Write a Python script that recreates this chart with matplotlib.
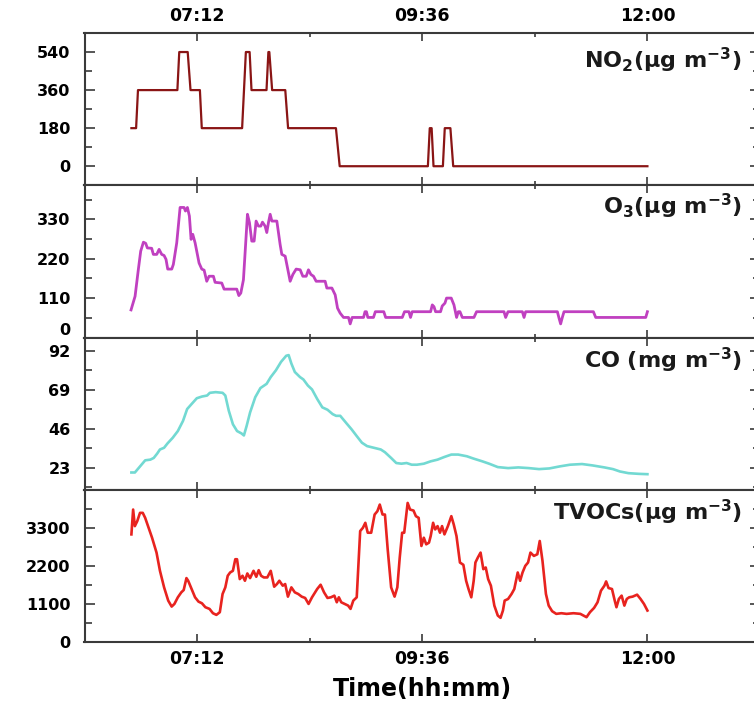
import matplotlib
matplotlib.use('Agg')
from matplotlib import pyplot as plt
from matplotlib.ticker import MultipleLocator, FixedLocator
from matplotlib.transforms import blended_transform_factory, ScaledTranslation

# time in hours (decimal)
no2_t = [6.50, 6.55, 6.57, 6.99, 7.01, 7.10, 7.13, 7.23, 7.25, 7.68, 7.72, 7.76, 7.78, 7.94,
         7.96, 7.97, 8.00, 8.14, 8.17, 8.68, 8.72, 9.66, 9.68, 9.70, 9.72, 9.82, 9.84, 9.90,
         9.93, 12.00]
no2_v = [180, 180, 360, 360, 540, 540, 360, 360, 180, 180, 540, 540, 360, 360,
         540, 540, 360, 360, 180, 180, 0, 0, 180, 180, 0, 0, 180, 180,
         0, 0]

o3_t = [6.496, 6.539, 6.574, 6.599, 6.628, 6.652, 6.670, 6.716, 6.734, 6.770, 6.795, 6.823,
        6.848, 6.869, 6.887, 6.930, 6.947, 6.983, 7.019, 7.061, 7.076, 7.097, 7.118, 7.136,
        7.154, 7.179, 7.221, 7.250, 7.275, 7.303, 7.328, 7.374, 7.392, 7.463, 7.488, 7.623,
        7.645, 7.666, 7.694, 7.737, 7.758, 7.783, 7.808, 7.829, 7.854, 7.879, 7.897, 7.925,
        7.943, 7.961, 7.979, 7.997, 8.050, 8.085, 8.103, 8.139, 8.164, 8.192, 8.221, 8.256,
        8.299, 8.327, 8.363, 8.387, 8.413, 8.441, 8.469, 8.565, 8.583, 8.637, 8.672, 8.697,
        8.725, 8.761, 8.814, 8.832, 8.853, 8.974, 8.990, 9.005, 9.020, 9.080, 9.100, 9.190,
        9.210, 9.387, 9.411, 9.458, 9.475, 9.493, 9.689, 9.707, 9.725, 9.742, 9.795, 9.813,
        9.842, 9.859, 9.909, 9.938, 9.966, 9.984, 10.002, 10.027, 10.151, 10.179, 10.471,
        10.489, 10.514, 10.667, 10.685, 10.702, 11.040, 11.058, 11.075, 11.093, 11.111,
        11.424, 11.449, 11.982, 12.000]
o3_v = [77, 115, 190, 241, 266, 263, 250, 249, 232, 232, 246, 232,
        229, 218, 191, 191, 204, 264, 363, 363, 353, 363, 339, 274,
        288, 264, 208, 191, 188, 157, 171, 171, 154, 152, 135, 135,
        117, 124, 161, 344, 321, 269, 269, 325, 311, 311, 322, 311,
        293, 321, 344, 325, 325, 260, 232, 227, 194, 157, 176, 191,
        189, 171, 171, 189, 176, 171, 157, 157, 138, 138, 119, 82,
        68, 56, 56, 38, 56, 56, 72, 72, 56, 56, 72, 72,
        56, 56, 72, 72, 56, 72, 72, 91, 86, 72, 72, 88,
        96, 110, 110, 91, 56, 72, 72, 56, 56, 72, 72,
        56, 72, 72, 56, 72, 72, 54, 38, 56, 72,
        72, 56, 56, 72]

co_t = [6.500, 6.537, 6.592, 6.647, 6.702, 6.738, 6.775, 6.804, 6.848, 6.885, 6.940, 6.995,
        7.050, 7.094, 7.142, 7.197, 7.252, 7.307, 7.336, 7.398, 7.472, 7.501, 7.538, 7.582,
        7.626, 7.673, 7.699, 7.728, 7.765, 7.820, 7.875, 7.941, 7.985, 8.040, 8.095, 8.150,
        8.176, 8.205, 8.242, 8.297, 8.333, 8.381, 8.425, 8.480, 8.535, 8.590, 8.645, 8.682,
        8.726, 8.792, 8.847, 8.902, 8.957, 9.012, 9.085, 9.158, 9.202, 9.268, 9.323, 9.378,
        9.433, 9.488, 9.543, 9.617, 9.690, 9.763, 9.837, 9.910, 9.983, 10.075, 10.148, 10.240,
        10.313, 10.405, 10.515, 10.625, 10.735, 10.845, 10.955, 11.065, 11.175, 11.303, 11.413,
        11.542, 11.633, 11.707, 11.798, 11.908, 12.000]
co_v = [20.2, 20.2, 23.8, 27.4, 27.8, 28.8, 31.4, 33.8, 34.8, 37.4, 40.7, 44.7,
        50.7, 57.7, 60.7, 64.1, 65.1, 65.7, 67.3, 67.7, 67.3, 65.7, 56.7, 48.7,
        44.7, 43.3, 42.1, 47.7, 55.7, 64.7, 70.1, 72.6, 76.6, 80.6, 85.6, 89.2,
        89.6, 84.6, 79.6, 76.6, 75.2, 71.6, 69.3, 63.7, 58.7, 57.3, 54.7, 53.7,
        53.7, 49.3, 45.7, 41.7, 37.8, 35.8, 34.8, 33.8, 32.2, 28.8, 25.8, 25.4,
        25.8, 24.8, 24.8, 25.4, 26.8, 27.8, 29.4, 30.8, 30.8, 29.8, 28.4, 26.8,
        25.4, 23.4, 22.8, 23.2, 22.8, 22.2, 22.6, 23.8, 24.8, 25.2, 24.4,
        23.2, 22.2, 20.8, 19.8, 19.4, 19.2]

# TVOCs: position in the zoomed trace -> hours
tvoc_zx = [35, 40, 45, 52, 60, 68, 75, 85, 95, 108, 118, 130, 142, 152, 160, 170, 180, 187,
           195, 200, 210, 220, 230, 240, 250, 262, 272, 282, 292, 300, 308, 315, 322, 330,
           337, 342, 350, 358, 365, 372, 380, 390, 398, 405, 412, 420, 430, 440, 450, 458,
           465, 475, 482, 490, 500, 510, 520, 530, 540, 550, 560, 575, 585, 595, 605, 615,
           625, 632, 638, 645, 655, 665, 672, 680, 690, 700, 708, 715, 722, 732, 742, 750,
           757, 765, 772, 780, 790, 800, 808, 815, 822, 828, 838, 845, 855, 862, 870, 878,
           885, 892, 900, 905, 912, 918, 925, 932, 938, 945, 955, 965, 972, 980, 990, 1000,
           1008, 1015, 1023, 1030, 1035, 1042, 1050, 1058, 1065, 1072, 1080, 1090, 1100, 1108,
           1115, 1120, 1130, 1140, 1148, 1158, 1165, 1172, 1180, 1188, 1195, 1205, 1215, 1222,
           1230, 1240, 1248, 1258, 1270, 1285, 1300, 1320, 1340, 1358, 1368, 1380, 1390, 1400,
           1410, 1415, 1422, 1432, 1440, 1445, 1452, 1460, 1468, 1475, 1482, 1492, 1505, 1515,
           1525, 1535]
tvoc_v = [3110, 3828, 3349, 3493, 3732, 3732, 3588, 3301, 3014, 2584, 2057, 1579, 1196, 1024,
          1100, 1292, 1435, 1502, 1847, 1770, 1531, 1292, 1167, 1119, 1005, 957, 832, 784, 861,
          1387, 1579, 1914, 2009, 2057, 2392, 2392, 1818, 1914, 1770, 1981, 1847, 2057, 1885,
          2076, 1914, 1866, 1866, 2057, 1598, 1675, 1770, 1627, 1675, 1311, 1579, 1435, 1387,
          1311, 1273, 1100, 1292, 1531, 1655, 1435, 1273, 1292, 1340, 1148, 1292, 1148, 1100,
          1052, 957, 1196, 1292, 3206, 3301, 3445, 3158, 3158, 3684, 3780, 3971, 3684, 3684,
          2679, 1579, 1311, 1579, 2440, 3158, 3158, 4019, 3828, 3799, 3636, 3588, 2775, 3014,
          2823, 2871, 3062, 3445, 3253, 3349, 3158, 3349, 3110, 3349, 3636, 3397, 3062, 2297,
          2230, 1770, 1531, 1292, 1770, 2297, 2440, 2584, 2105, 2153, 1818, 1627, 1052, 765,
          698, 909, 1196, 1244, 1387, 1531, 2009, 1770, 2009, 2201, 2297, 2584, 2488, 2536,
          2919, 2344, 1387, 1052, 890, 813, 832, 813, 832, 813, 717, 861, 986, 1148, 1483,
          1627, 1751, 1560, 1531, 1196, 1005, 1244, 1340, 1052, 1244, 1292, 1311, 1368, 1244,
          1100, 909]
tvoc_t = [6.5 + (z - 35) * 5.5 / 1500 for z in tvoc_zx]

x_ticks = [7.2, 9.6, 12.0]
x_labels = ['07:12', '09:36', '12:00']

titles = ['NO$_2$(μg m$^{-3}$)', 'O$_3$(μg m$^{-3}$)', 'CO (mg m$^{-3}$)', 'TVOCs(μg m$^{-3}$)']
colors = ['#8A1515', '#C040C0', '#72D9D2', '#E8231F']
widths = [1.6, 2.0, 1.9, 1.9]
y_major = [[0, 180, 360, 540], [0, 110, 220, 330], [23, 46, 69, 92], [0, 1100, 2200, 3300]]
y_minor = [90, 55, 11.5, 550]
y_lims = [(-90, 630), (0, 425), (10, 100), (0, 4400)]
title_y = [0.82, 0.86, 0.85, 0.85]

plt.rcParams['font.family'] = ['DejaVu Sans']
plt.rcParams['font.weight'] = 'bold'
plt.rcParams['mathtext.default'] = 'bf'
plt.rcParams['mathtext.fontset'] = 'dejavusans'

fig = plt.figure(figsize=(7.54, 7.04), dpi=100)
W, H = 754.0, 704.0
left_px, right_px = 84.5, 760.0
top_px, bot_px = 33.0, 642.0
ph = (bot_px - top_px) / 4

series = [(no2_t, no2_v), (o3_t, o3_v), (co_t, co_v), (tvoc_t, tvoc_v)]
axes = []
for i in range(4):
    y_top = top_px + i * ph
    ax = fig.add_axes([left_px / W, (H - y_top - ph) / H, (right_px - left_px) / W, ph / H])
    t, v = series[i]
    ax.plot(t, v, color=colors[i], lw=widths[i], solid_joinstyle='round')
    ax.set_xlim(6.0, 13.2)
    ax.set_ylim(*y_lims[i])
    ax.xaxis.set_major_locator(FixedLocator(x_ticks))
    ax.xaxis.set_minor_locator(FixedLocator([8.4, 10.8]))
    ax.set_xticks(x_ticks, x_labels)
    ax.yaxis.set_major_locator(FixedLocator(y_major[i]))
    ax.yaxis.set_minor_locator(MultipleLocator(y_minor[i]))
    for s in ax.spines.values():
        s.set_linewidth(1.5)
        s.set_color('#3a3a3a')
    ax.tick_params(which='both', direction='in', top=True, right=True, color='#3a3a3a', width=1.2)
    ax.tick_params(axis='x', which='major', length=6, labelsize=12.5, pad=6)
    ax.tick_params(axis='x', which='minor', length=3)
    ax.tick_params(axis='y', which='major', length=7, labelsize=11.5, pad=10)
    ax.tick_params(axis='y', which='minor', length=5)
    ax.tick_params(axis='x', labelbottom=(i == 3), labeltop=(i == 0))
    tr = blended_transform_factory(fig.transFigure, ax.transAxes)
    ax.text(742 / W, title_y[i], titles[i], transform=tr, ha='right', va='center',
            fontsize=16, fontweight='bold', color='#1a1a1a')
    axes.append(ax)

# the O3 "0" sits just above the CO "92", as in the original
fig.canvas.draw()
lab0 = axes[1].get_yticklabels()[0]
lab0.set_transform(lab0.get_transform() + ScaledTranslation(0, 5 / 72, fig.dpi_scale_trans))
lab0.set_verticalalignment('center')

axes[3].set_xlabel('Time(hh:mm)', fontsize=17, fontweight='bold', labelpad=6)

plt.savefig('out.png', dpi=100)
